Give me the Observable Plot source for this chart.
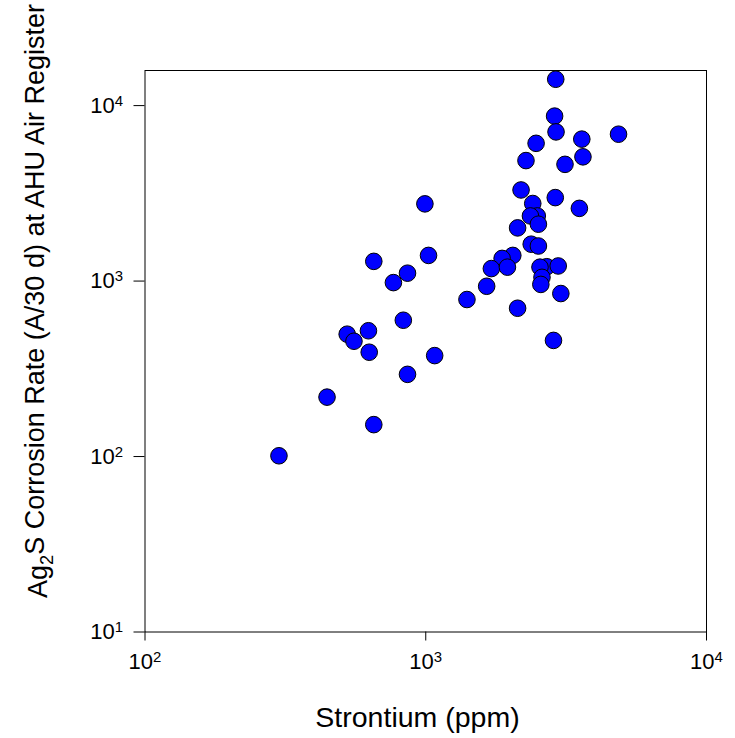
<!DOCTYPE html>
<html><head><meta charset="utf-8">
<script src="https://cdn.jsdelivr.net/npm/d3@7"></script>
<script src="https://cdn.jsdelivr.net/npm/@observablehq/plot@0.6"></script>
<style>
body{margin:0;background:#fff}
svg{font-family:"Liberation Sans",Arial,sans-serif}
</style>
</head><body><div id="chart"></div>
<script>
const strontium = [2904,2877,2911,2472,3596,4860,3630,3133,2275,2185,2893,3525,993,2405,2496,2360,2519,2124,2375,2519,1023,2042,1871,1713,1954,653,861,767,2698,2964,2552,2594,2570,3028,1648,1402,2124,832,525,625,555,629,1076,2851,861,445,653,300];
const corrosion = [14130,8710,7080,6095,6440,6870,5105,4625,4860,3305,2990,2596,2754,2767,2350,2350,2109,2009,1622,1584,1400,1400,1346,1178,1200,1295,1109,980,1207,1219,1200,1050,957,849,934,785,700,598,498,521,454,393,376,459,294,218,152,101];
const xTicks = [100, 1000, 10000];
const yTicks = [10, 100, 1000, 10000];
const xTitle = "Strontium (ppm)";
const yTitleParts = ["Ag", "2", "S Corrosion Rate (A/30 d) at AHU Air Register"];

const points = strontium.map((s, i) => ({s, c: corrosion[i]}));
const expFmt = d => "10^" + Math.round(Math.log10(d));

const W = 735, H = 738;
const chart = Plot.plot({
  width: W, height: H,
  marginLeft: 144.5, marginRight: 29, marginTop: 70, marginBottom: 106.5,
  style: {fontFamily: '"Liberation Sans", Arial, sans-serif', background: "white", color: "black", overflow: "visible"},
  x: {type: "log", domain: [100, 10000]},
  y: {type: "log", domain: [10, Math.pow(10, 4.2)]},
  marks: [
    Plot.frame({stroke: "black", strokeWidth: 1}),
    Plot.axisX({ticks: xTicks, tickSize: 9, tickPadding: 12, fontSize: 22, tickFormat: expFmt, label: null, stroke: "black", strokeWidth: 1}),
    Plot.axisY({ticks: yTicks, tickSize: 11, tickPadding: 11, fontSize: 22, tickFormat: expFmt, label: null, stroke: "black", strokeWidth: 1}),
    Plot.dot(points, {x: "s", y: "c", r: 8.3, fill: "#0000ff", stroke: "black", strokeWidth: 1})
  ]
});
document.getElementById("chart").appendChild(chart);

const svg = d3.select(chart);
// superscripts for tick labels
svg.selectAll('g[aria-label$="tick label"] text').each(function() {
  const t = d3.select(this);
  const s = t.text();
  if (!s.includes("^")) return;
  const [base, exp] = s.split("^");
  t.text(null);
  t.append("tspan").text(base);
  t.append("tspan").attr("dy", "-0.45em").attr("font-size", "0.68em").text(exp);
});

// axis titles
svg.append("text")
  .attr("x", 417.5).attr("y", 727)
  .attr("text-anchor", "middle")
  .attr("font-size", 28.5)
  .attr("fill", "black")
  .text(xTitle);

const yt = svg.append("text")
  .attr("transform", "translate(47,301) rotate(-90)")
  .attr("text-anchor", "middle")
  .attr("font-size", 27)
  .attr("fill", "black");
yt.append("tspan").text(yTitleParts[0]);
yt.append("tspan").attr("dy", "0.3em").attr("font-size", "0.68em").text(yTitleParts[1]);
yt.append("tspan").attr("dy", "-0.3em").text(yTitleParts[2]);
</script>
</body></html>
